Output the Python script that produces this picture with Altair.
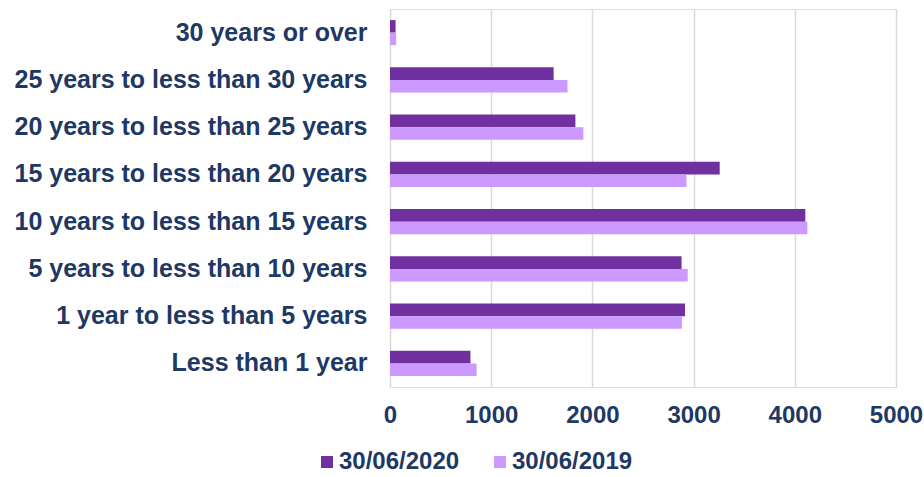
import altair as alt
import pandas as pd

categories = [
    "30 years or over",
    "25 years to less than 30 years",
    "20 years to less than 25 years",
    "15 years to less than 20 years",
    "10 years to less than 15 years",
    "5 years to less than 10 years",
    "1 year to less than 5 years",
    "Less than 1 year",
]
series = ["30/06/2020", "30/06/2019"]
values_2020 = [55, 1617, 1832, 3258, 4104, 2881, 2915, 795]
values_2019 = [61, 1754, 1911, 2929, 4124, 2942, 2884, 856]
x_ticks = [0, 1000, 2000, 3000, 4000, 5000]
colors = ["#7030A0", "#CC99FF"]

rows = []
for c, v in zip(categories, values_2020):
    rows.append({"category": c, "series": series[0], "value": v})
for c, v in zip(categories, values_2019):
    rows.append({"category": c, "series": series[1], "value": v})
df = pd.DataFrame(rows)

FONT = "Liberation Sans"
TEXT = "#203864"

chart = alt.Chart(df).mark_bar(strokeWidth=0).encode(
    y=alt.Y(
        "category:N",
        sort=categories,
        scale=alt.Scale(paddingInner=0.47, paddingOuter=0.235),
        axis=alt.Axis(
            title=None,
            ticks=False,
            domain=False,
            labelPadding=23,
            labelFont=FONT,
            labelFontWeight="bold",
            labelFontSize=25,
            labelColor=TEXT,
            labelLimit=400,
        ),
    ),
    yOffset=alt.YOffset("series:N", sort=series, scale=alt.Scale(domain=series)),
    x=alt.X(
        "value:Q",
        scale=alt.Scale(domain=[0, 5000], nice=False),
        axis=alt.Axis(
            title=None,
            values=x_ticks,
            format="d",
            ticks=False,
            domain=False,
            grid=True,
            gridColor="#D9D9D9",
            gridWidth=1.5,
            labelPadding=16,
            labelFont=FONT,
            labelFontWeight="bold",
            labelFontSize=24,
            labelColor=TEXT,
            labelFlush=False,
        ),
    ),
    color=alt.Color(
        "series:N",
        sort=series,
        scale=alt.Scale(domain=series, range=colors),
        legend=alt.Legend(
            title=None,
            orient="none",
            direction="horizontal",
            legendX=-75,
            legendY=441,
            symbolType="square",
            symbolSize=144,
            symbolStrokeWidth=0,
            labelOffset=0,
            columnPadding=28,
            labelFont=FONT,
            labelFontWeight="bold",
            labelFontSize=24,
            labelColor=TEXT,
        ),
    ),
).properties(
    width=506,
    height=378,
    autosize=alt.AutoSizeParams(type="none"),
    padding={"left": 390, "top": 9, "right": 28, "bottom": 90},
).configure_view(stroke=None).configure(background="white")

chart.save("out.html", embed_options={"renderer": "svg", "actions": False})
